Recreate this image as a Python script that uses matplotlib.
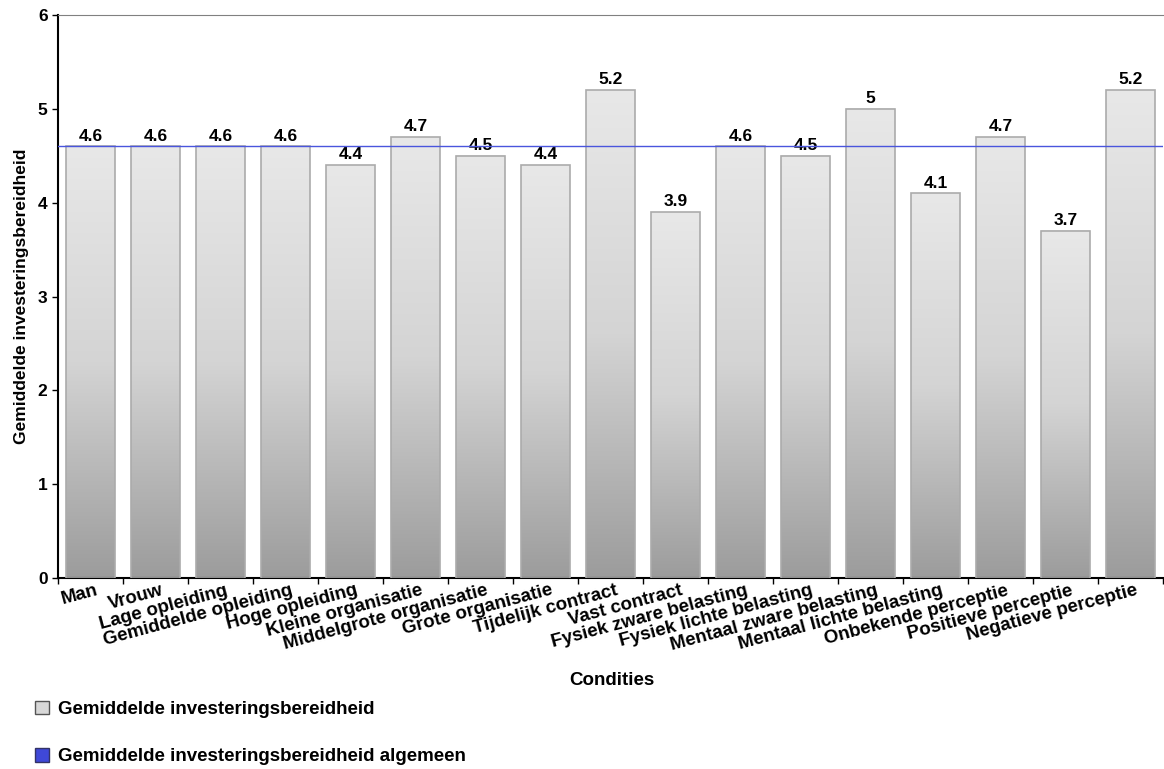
import matplotlib.pyplot as plt
import matplotlib.transforms as mtransforms
from matplotlib.patches import Patch
from matplotlib.colors import LinearSegmentedColormap
import numpy as np

# data
condities = ['Man', 'Vrouw', 'Lage opleiding', 'Gemiddelde opleiding', 'Hoge opleiding',
             'Kleine organisatie', 'Middelgrote organisatie', 'Grote organisatie',
             'Tijdelijk contract', 'Vast contract', 'Fysiek zware belasting',
             'Fysiek lichte belasting', 'Mentaal zware belasting', 'Mentaal lichte belasting',
             'Onbekende perceptie', 'Positieve perceptie', 'Negatieve perceptie']
waarden = [4.6, 4.6, 4.6, 4.6, 4.4, 4.7, 4.5, 4.4, 5.2, 3.9, 4.6, 4.5, 5.0, 4.1, 4.7, 3.7, 5.2]
waarde_labels = ['4.6', '4.6', '4.6', '4.6', '4.4', '4.7', '4.5', '4.4', '5.2', '3.9',
                 '4.6', '4.5', '5', '4.1', '4.7', '3.7', '5.2']
algemeen = 4.6

plt.rcParams['font.family'] = ['Liberation Sans', 'DejaVu Sans']
plt.rcParams['font.weight'] = 'bold'

fig = plt.figure(figsize=(11.64, 7.69), dpi=100)
ax = fig.add_axes([0.0498, 0.2484, 0.9494, 0.732])

x = np.arange(len(condities))
breedte = 0.75

# balken met verloop (licht boven, donker onder)
grad = np.linspace(0, 1, 256).reshape(-1, 1)
cmap = LinearSegmentedColormap.from_list('grijs', ['#9c9c9c', '#d4d4d4', '#e8e8e8'])
for xi, v, lab in zip(x, waarden, waarde_labels):
    ax.imshow(grad, extent=[xi - breedte / 2, xi + breedte / 2, 0, v], origin='lower',
              aspect='auto', cmap=cmap, vmin=0, vmax=1, zorder=2)
    ax.bar(xi, v, width=breedte, facecolor='none', edgecolor='#ababab', linewidth=1.2, zorder=3)
    ax.text(xi, v + 0.03, lab, ha='center', va='bottom', fontsize=12.5,
            fontweight='bold', zorder=4)

# gemiddelde lijn
ax.axhline(algemeen, color='#4a55dd', linewidth=1, zorder=5)

ax.set_xlim(-0.5, len(condities) - 0.5)
ax.set_ylim(0, 6)
ax.set_yticks([0, 1, 2, 3, 4, 5, 6])
ax.tick_params(axis='y', labelsize=12.5, length=4, width=1)
for lbl in ax.get_yticklabels():
    lbl.set_fontweight('bold')

# tick marks op de grenzen, labels op de midden
ax.set_xticks(np.arange(len(condities) + 1) - 0.5)
ax.set_xticklabels([])
ax.tick_params(axis='x', length=4, width=1)
offset = mtransforms.ScaledTranslation(5 / 100, -4 / 100, fig.dpi_scale_trans)
for xi, naam in zip(x, condities):
    ax.text(xi, 0, naam, rotation=15, rotation_mode='anchor', ha='right', va='top',
            fontsize=13.5, fontweight='bold', transform=ax.get_xaxis_transform() + offset)

ax.spines['right'].set_visible(False)
ax.spines['top'].set_color('#808080')
ax.spines['left'].set_linewidth(1.5)
ax.spines['bottom'].set_linewidth(1.5)

ax.set_ylabel('Gemiddelde investeringsbereidheid', fontsize=12.5, fontweight='bold', labelpad=6)
fig.text(0.526, 0.115, 'Condities', ha='center', va='center', fontsize=13.5, fontweight='bold')

# legenda
handles = [Patch(facecolor='#d8d8d8', edgecolor='#555555'),
           Patch(facecolor='#3f48d8', edgecolor='#333366')]
fig.legend(handles, ['Gemiddelde investeringsbereidheid', 'Gemiddelde investeringsbereidheid algemeen'],
           loc='upper left', bbox_to_anchor=(0.0155, 0.111), frameon=False,
           prop={'size': 13.5, 'weight': 'bold'}, handlelength=0.75, handleheight=0.75,
           handletextpad=0.5, labelspacing=1.6)

fig.savefig('out.png', dpi=100)
